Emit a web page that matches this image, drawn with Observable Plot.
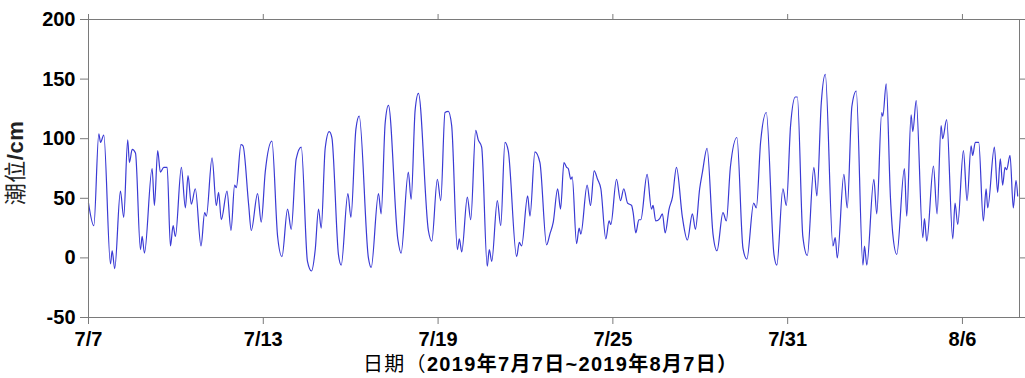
<!DOCTYPE html>
<html>
<head>
<meta charset="utf-8">
<script src="https://cdn.jsdelivr.net/npm/d3@7"></script>
<script src="https://cdn.jsdelivr.net/npm/@observablehq/plot@0.6"></script>
<style>
  html, body { margin: 0; padding: 0; background: #fff; }
  #chart { width: 1025px; height: 378px; }
</style>
</head>
<body>
<div id="chart"></div>
<script>
// Hours after 2019-07-07 00:00 and tide level (cm)
const hours = [
  0, 4.4, 8.5, 9.9, 12.6, 18.1, 19.5, 21.6, 26.3, 29.0, 32.3, 33.7, 36.0, 38.7,
  42.8, 44.2, 46.1, 52.4, 54.3, 57.0, 59.2, 62.0, 64.8, 67.5, 69.7, 71.6, 76.5,
  79.8, 82.0, 84.7, 88.0, 92.7, 95.7, 97.1, 101.8, 105.3, 107.2, 109.4, 114.1,
  117.4, 120.4, 121.8, 125.6, 127.3, 131.9, 134.1, 139.3, 142.3, 145.6, 151.1,
  155.8, 159.4, 164.0, 167.0, 171.1, 175.3, 180.4, 183.7, 186.8, 189.5, 191.7,
  195.0, 198.3, 200.5, 205.9, 208.2, 213.7, 216.2, 220.3, 223.0, 230.6, 232.9,
  238.9, 241.1, 244.4, 247.1, 254.8, 257.5, 263.5, 265.8, 269.1, 271.8, 280.0,
  282.8, 287.4, 290.2, 293.7, 296.4, 299.2, 303.9, 305.5, 307.5, 312.1, 314.9,
  319.0, 321.1, 323.9, 328.5, 330.2, 332.2, 336.8, 339.6, 343.1, 345.8, 352.7,
  354.9, 356.8, 361.8, 363.7, 367.8, 371.9, 377.4, 380.1, 382.9, 386.5, 388.9,
  391.7, 393.9, 395.2, 397.4, 398.5, 402.1, 404.2, 405.6, 410.8, 413.6, 416.6,
  419.4, 422.1, 426.2, 428.9, 430.3, 435.0, 438.3, 441.0, 444.1, 447.4, 448.7,
  450.9, 453.4, 455.0, 460.2, 463.8, 465.1, 467.3, 470.6, 472.8, 475.1, 478.3,
  481.1, 484.4, 489.3, 493.4, 497.5, 500.0, 503.5, 505.8, 509.6, 514.5, 517.8,
  522.7, 525.5, 528.8, 534.2, 539.2, 542.4, 548.0, 550.2, 553.7, 558.4, 564.7,
  567.1, 572.1, 574.9, 578.4, 582.3, 584.0, 588.5, 592.2, 597.6, 600.1, 603.7,
  607.0, 613.3, 615.2, 616.9, 622.3, 625.1, 628.9, 632.5, 638.0, 639.3, 641.2,
  647.0, 649.4, 653.5, 654.4, 657.2, 660.7, 662.6, 665.9, 672.2, 674.1, 677.7,
  679.1, 681.9, 687.3, 688.7, 690.6, 696.1, 699.1, 702.4, 703.7, 707.0, 712.0,
  713.9, 716.1, 720.8, 723.8, 727.1, 728.4, 730.6, 733.4, 737.2, 739.5, 740.8,
  746.3, 749.0, 751.2, 753.1, 755.1, 756.4, 759.2, 761.9, 764.1, 765.5
];
const levels = [
  46, 27, 104, 97, 103, -5, 6, -9, 56, 34, 99, 80, 91, 88,
  7, 18, 4, 75, 44, 90, 72, 76, 76, 10, 27, 18, 76,
  42, 69, 45, 58, 10, 38, 35, 84, 44, 55, 32, 56,
  23, 61, 59, 95, 94, 45, 23, 54, 30, 72, 98,
  18, 1, 41, 24, 83, 93, -3, -11, 7, 41, 25,
  92, 106, 101, 3, -6, 54, 34, 108, 119, 0, -8,
  54, 37, 113, 128, 16, 4, 72, 49, 124, 138, 23,
  14, 66, 48, 122, 123, 111, 7, 16, 5, 51, 32,
  107, 99, 93, -7, 7, -3, 48, 27, 97, 90, 1,
  13, 10, 52, 35, 89, 80, 11, 20, 30, 58, 41,
  80, 76, 75, 66, 68, 12, 25, 20, 61, 44, 73,
  66, 58, 16, 31, 28, 66, 48, 58, 46, 44, 38,
  21, 32, 32, 70, 41, 44, 31, 33, 37, 21, 41,
  51, 76, 34, 15, 37, 24, 58, 72, 92, 20, 6,
  38, 31, 76, 101, 8, -1, 46, 42, 97, 122, 3,
  -6, 58, 44, 111, 135, 135, 18, 2, 76, 52, 130,
  154, 10, 17, 0, 70, 42, 127, 140, -6, 10, -6,
  66, 37, 122, 119, 146, 50, 20, 3, 75, 35, 120,
  106, 132, 17, 33, 14, 77, 37, 111, 100, 116, 16,
  46, 28, 90, 48, 94, 86, 97, 97, 31, 58, 42,
  93, 55, 83, 61, 76, 74, 86, 42, 65, 52
];
const xTickLabels = ["7/7", "7/13", "7/19", "7/25", "7/31", "8/6"];
const yTicks = [-50, 0, 50, 100, 150, 200];
const yLabel = "潮位/cm";
const xLabelA = "日期（";
const xLabelB = "2019年7月7日~2019年8月7日）";

const start = new Date(2019, 6, 7);
const end = new Date(+start + 767 * 3600e3);
const data = hours.map((h, i) => ({t: new Date(+start + h * 3600e3), v: levels[i]}));
const xTicks = xTickLabels.map(s => { const [m, d] = s.split("/").map(Number); return new Date(2019, m - 1, d); });
const fmt = d => `${d.getMonth() + 1}/${d.getDate()}`;

const gray = "#7a7a7a";
const font = "'Liberation Sans', Arial, 'Noto Sans CJK SC', sans-serif";

const chart = Plot.plot({
  width: 1025,
  height: 378,
  marginLeft: 88,
  marginRight: 6,
  marginTop: 19,
  marginBottom: 61,
  style: {fontFamily: font, background: "white", overflow: "visible"},
  x: {type: "time", domain: [start, end]},
  y: {domain: [-50, 200]},
  marks: [
    Plot.line(data, {x: "t", y: "v", stroke: "#3a3ad4", strokeWidth: 1.2, curve: "monotone-x"}),
    Plot.frame({stroke: gray, strokeWidth: 1}),
    Plot.axisX(xTicks, {anchor: "bottom", tickFormat: fmt, tickSize: 7, tickPadding: 7, fontSize: 20, fontWeight: "bold", stroke: gray, fill: "black", label: null}),
    Plot.axisX(xTicks, {anchor: "top", tickFormat: () => "", tickSize: 6, stroke: gray, label: null}),
    Plot.axisY(yTicks, {anchor: "left", tickFormat: d => String(d), tickSize: 8, tickPadding: 5, fontSize: 20, fontWeight: "bold", stroke: gray, fill: "black", label: null}),
    Plot.axisY(yTicks, {anchor: "right", tickFormat: () => "", tickSize: 6, stroke: gray, label: null})
  ]
});

const svg = d3.select(chart);
// y-axis title
const yt = svg.append("text")
  .attr("transform", "translate(23,163) rotate(-90)")
  .attr("text-anchor", "middle")
  .attr("font-family", font)
  .attr("font-size", 22)
  .attr("fill", "#222")
  .attr("letter-spacing", 0.5);
yt.append("tspan").attr("font-weight", "normal").text(yLabel.slice(0, 2));
yt.append("tspan").attr("font-weight", "bold").text(yLabel.slice(2));
// x-axis title
const xt = svg.append("text")
  .attr("x", 550)
  .attr("y", 371)
  .attr("text-anchor", "middle")
  .attr("font-family", font)
  .attr("font-size", 20)
  .attr("fill", "black")
  .attr("textLength", 374)
  .attr("lengthAdjust", "spacing");
xt.append("tspan").attr("font-weight", "normal").text(xLabelA);
xt.append("tspan").attr("font-weight", "bold").text(xLabelB);

document.getElementById("chart").appendChild(chart);
</script>
</body>
</html>
